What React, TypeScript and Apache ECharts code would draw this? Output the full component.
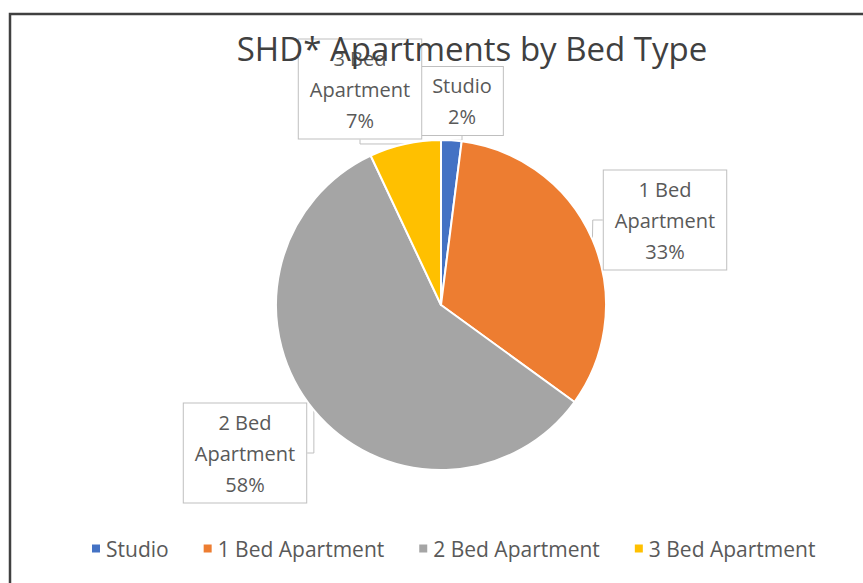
import React, { useEffect, useRef } from "react";
import * as echarts from "echarts";

const TITLE = "SHD* Apartments by Bed Type";
const categories = ["Studio", "1 Bed Apartment", "2 Bed Apartment", "3 Bed Apartment"];
const values = [2, 33, 58, 7];
const colors = ["#4472C4", "#ED7D31", "#A5A5A5", "#FFC000"];
// label box centres (style, not data)
const labelPos: [number, number][] = [
  [462, 101],
  [665, 220],
  [245, 453],
  [360, 89],
];

export default function App() {
  const ref = useRef<HTMLDivElement>(null);
  useEffect(() => {
    if (!ref.current) return;
    const chart = echarts.init(ref.current, null, { renderer: "svg" });
    const font = "Open Sans, Noto Sans, sans-serif";
    chart.setOption({
      animation: false,
      backgroundColor: "#ffffff",
      title: {
        text: TITLE,
        left: 467,
        top: 27,
        textAlign: "center",
        textStyle: { fontFamily: font, fontSize: 33, fontWeight: "normal", color: "#404040" },
      },
      legend: {
        data: categories,
        left: 85,
        top: 533,
        icon: "rect",
        itemWidth: 10,
        itemHeight: 10,
        itemGap: 33,
        textStyle: { fontFamily: font, fontSize: 21, color: "#595959" },
      },
      graphic: [
        {
          type: "rect",
          shape: { x: 10, y: 14, width: 900, height: 620 },
          style: { fill: "none", stroke: "#404040", lineWidth: 2.5 },
          z: 100,
        },
      ],
      series: [
        {
          type: "pie",
          center: [441, 305],
          radius: 165,
          startAngle: 90,
          clockwise: true,
          itemStyle: { borderColor: "#ffffff", borderWidth: 2 },
          data: categories.map((c, i) => ({ name: c, value: values[i], itemStyle: { color: colors[i] } })),
          label: {
            show: true,
            fontFamily: font,
            fontSize: 20,
            lineHeight: 31,
            color: "#595959",
            backgroundColor: "#ffffff",
            borderColor: "#bfbfbf",
            borderWidth: 1,
            padding: [3, 11],
            align: "center",
            formatter: (p: any) =>
              p.name.replace(" Apartment", "\nApartment") + "\n" + Math.round(p.percent) + "%",
          },
          labelLine: { show: true, length: 10, length2: 10, lineStyle: { color: "#bfbfbf", width: 1 } },
          labelLayout: (params: any) => {
            const p = labelPos[params.dataIndex];
            return { x: p[0], y: p[1], align: "center", verticalAlign: "middle" };
          },
        },
      ],
    });
    return () => chart.dispose();
  }, []);
  return <div ref={ref} style={{ position: "absolute", left: 0, top: 0, width: 863, height: 583 }} />;
}
